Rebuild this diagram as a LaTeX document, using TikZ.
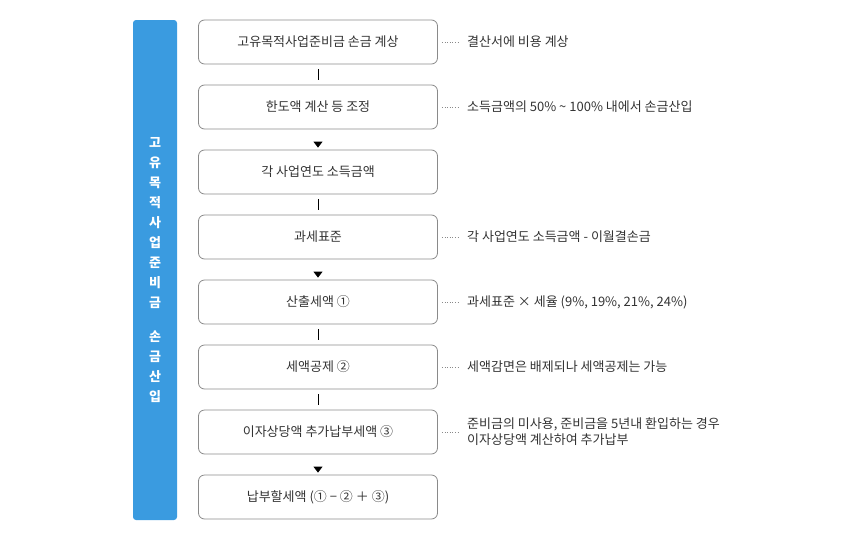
\documentclass[tikz,border=0pt]{standalone}
\usepackage{fontspec}
\setmainfont{Noto Sans CJK KR}
\usetikzlibrary{arrows.meta}
\definecolor{bar}{HTML}{3A9BE0}
\definecolor{bd}{HTML}{8A8A8A}
\definecolor{tx}{HTML}{333333}
\begin{document}
\begin{tikzpicture}[x=1pt,y=-1pt,
  stepbox/.style={draw=bd,line width=0.8pt,rounded corners=6pt,minimum width=239pt,minimum height=44pt,font=\fontsize{13}{15}\selectfont,text=tx,inner sep=0pt},
  note/.style={anchor=west,font=\fontsize{13}{16}\selectfont,text=tx,align=left,inner sep=0pt},
  lead/.style={draw=bd,dotted,line width=0.6pt},
  link/.style={draw=black,line width=0.8pt,shorten >=5pt,shorten <=5pt},
  arr/.style={draw=black,line width=0.8pt,-{Triangle[length=6pt,width=9pt]},shorten <=15pt,shorten >=2pt}]
\useasboundingbox (0,0) rectangle (841,544);
\fill[bar,rounded corners=3pt] (133,20) rectangle (177,520);
\node[font=\fontsize{13}{20}\selectfont\bfseries,text=white,align=center] (bar) at (155,270) {고\\유\\목\\적\\사\\업\\준\\비\\금\\[14pt]손\\금\\산\\입};
\foreach \i/\t in {1/고유목적사업준비금 손금 계상,2/한도액 계산 등 조정,3/각 사업연도 소득금액,4/과세표준,5/산출세액 ①,6/세액공제 ②,7/이자상당액 추가납부세액 ③,8/납부할세액 (① − ② ＋ ③)}{
  \node[stepbox] (b\i) at (318,{42+65*(\i-1)}) {\t};
}
\draw[link] (b1) -- (b2);
\draw[arr] (b2) -- (b3);
\draw[link] (b3) -- (b4);
\draw[arr] (b4) -- (b5);
\draw[link] (b5) -- (b6);
\draw[link] (b6) -- (b7);
\draw[arr] (b7) -- (b8);
\foreach \i/\t in {1/결산서에 비용 계상,2/소득금액의 50\% \textasciitilde{} 100\% 내에서 손금산입,4/각 사업연도 소득금액 - 이월결손금,5/과세표준 × 세율 (9\%{,} 19\%{,} 21\%{,} 24\%),6/세액감면은 배제되나 세액공제는 가능,7/{준비금의 미사용, 준비금을 5년내 환입하는 경우\\이자상당액 계산하여 추가납부}}{
  \coordinate (c\i) at (460,{42+65*(\i-1)});
  \draw[lead] (b\i.east) ++(4,0) -- (c\i);
  \node[note] (n\i) at (467,{42+65*(\i-1)}) {\t};
}
\end{tikzpicture}
\end{document}
